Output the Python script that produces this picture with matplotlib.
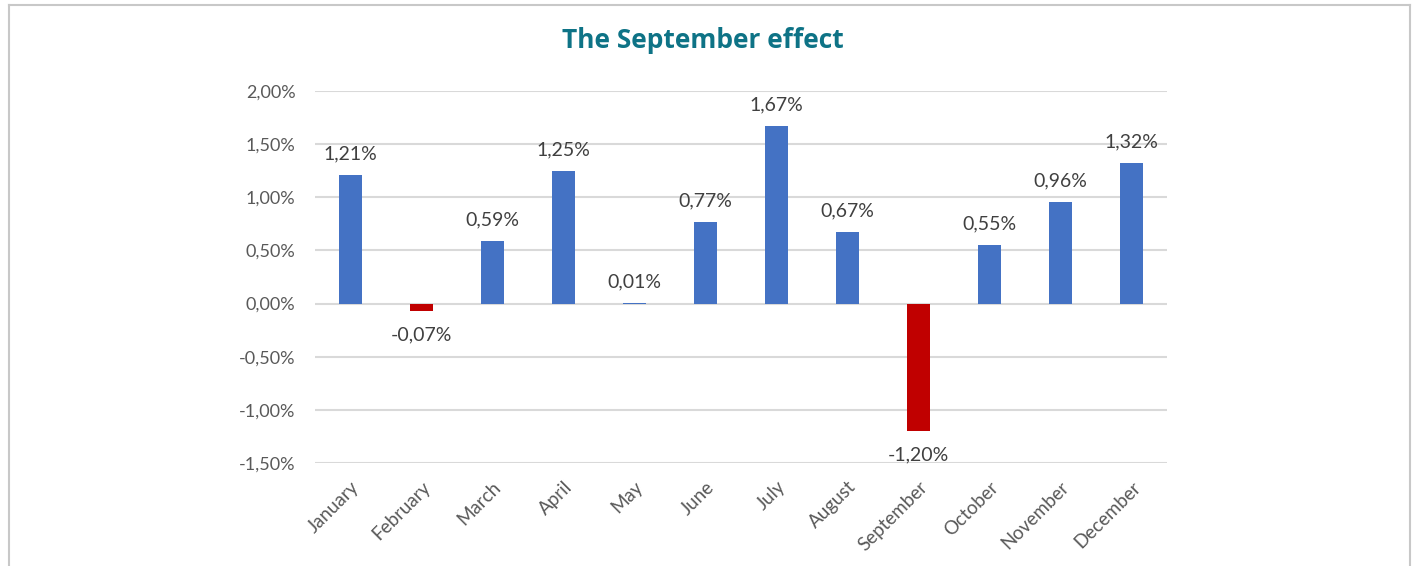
import matplotlib.pyplot as plt
from matplotlib.lines import Line2D

months = ["January", "February", "March", "April", "May", "June",
          "July", "August", "September", "October", "November", "December"]
returns = [1.21, -0.07, 0.59, 1.25, 0.01, 0.77, 1.67, 0.67, -1.20, 0.55, 0.96, 1.32]
yticks = [-1.5, -1.0, -0.5, 0.0, 0.5, 1.0, 1.5, 2.0]

W, H = 1417, 566
plt.rcParams['font.family'] = ['Lato', 'DejaVu Sans']

fig = plt.figure(figsize=(W / 100, H / 100), dpi=100)
ax = fig.add_axes([315 / W, (H - 463) / H, (1167 - 315) / W, (463 - 91) / H])

colors = ["#C00000" if v < 0 else "#4472C4" for v in returns]
x = range(len(months))
ax.bar(x, returns, width=0.31, color=colors, zorder=3)

for i, v in enumerate(returns):
    label = f"{v:.2f}%".replace(".", ",")
    if v < 0:
        ax.annotate(label, (i, v), xytext=(0, -11), textcoords="offset points",
                    ha="center", va="top", fontsize=14, color="#404040")
    else:
        ax.annotate(label, (i, v), xytext=(0, 9), textcoords="offset points",
                    ha="center", va="bottom", fontsize=14, color="#404040")

ax.set_xlim(-0.5, len(months) - 0.5)
ax.set_ylim(-1.5, 2.0)
ax.set_yticks(yticks)
ax.set_yticklabels([f"{t:.2f}%".replace(".", ",") for t in yticks])
ax.set_xticks(list(x))
ax.set_xticklabels(months, rotation=45, ha="right", va="top", rotation_mode="anchor",
                   fontsize=13.5)
ax.tick_params(axis="both", length=0, labelcolor="#595959")
ax.tick_params(axis="y", labelsize=13, pad=14)
ax.tick_params(axis="x", pad=11)
ax.grid(axis="y", color="#d9d9d9", linewidth=1.5, zorder=0)
for s in ax.spines.values():
    s.set_visible(False)

fig.text(703 / W, 1 - 40 / H, "The September effect", ha="center", va="center",
         fontsize=19, fontweight="bold", color="#0E7386",
         family=["Open Sans", "DejaVu Sans"])

# light frame around the chart (open at the bottom)
frame = dict(color="#c8c8c8", linewidth=1.5, transform=fig.transFigure)
fig.add_artist(Line2D([8.5 / W, 8.5 / W], [0, 1 - 5 / H], **frame))
fig.add_artist(Line2D([8.5 / W, 1409.5 / W], [1 - 5 / H, 1 - 5 / H], **frame))
fig.add_artist(Line2D([1409.5 / W, 1409.5 / W], [0, 1 - 5 / H], **frame))

fig.savefig("out.png", dpi=100)
